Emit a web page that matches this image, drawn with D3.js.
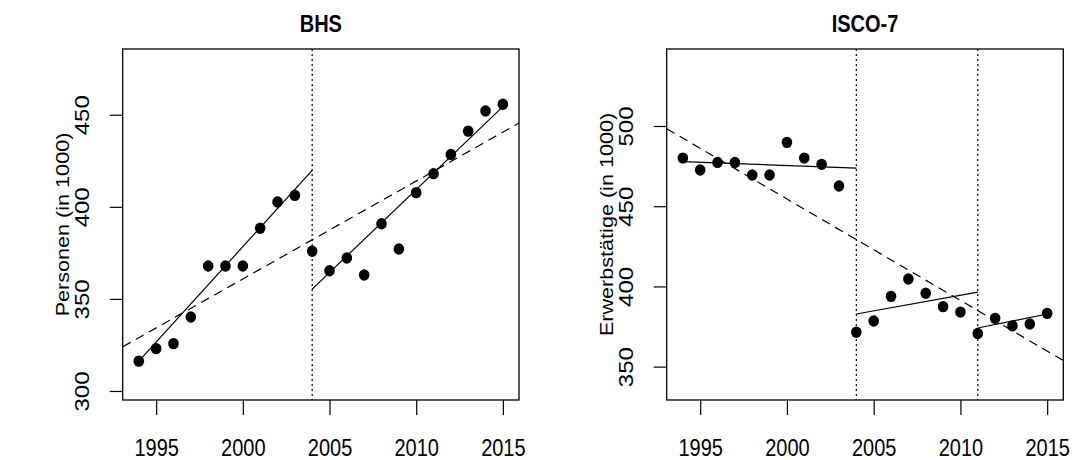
<!DOCTYPE html>
<html>
<head>
<meta charset="utf-8">
<script src="https://cdn.jsdelivr.net/npm/d3@7"></script>
<style>
  body { margin: 0; background: #fff; }
  svg { display: block; font-family: "Liberation Sans", Arial, sans-serif; }
</style>
</head>
<body>
<div id="chart"></div>
<script>
// values
const years = [1994, 1995, 1996, 1997, 1998, 1999, 2000, 2001, 2002, 2003, 2004,
               2005, 2006, 2007, 2008, 2009, 2010, 2011, 2012, 2013, 2014, 2015];

const bhsValues = [316.2, 323.0, 325.7, 340.2, 367.9, 367.9, 367.9, 388.4, 402.6, 406.2, 375.9,
                   365.3, 372.2, 363.0, 390.8, 377.1, 407.7, 418.0, 428.4, 441.1, 452.0, 455.7];
const iscoValues = [480.0, 472.6, 477.3, 477.3, 469.5, 469.5, 489.8, 480.0, 476.1, 462.6, 371.4,
                    378.4, 393.8, 404.6, 395.7, 387.4, 384.0, 370.7, 380.1, 375.5, 376.6, 383.2];

// structural breaks (dotted verticals)
const bhsBreaks = [2004];
const iscoBreaks = [2004, 2011];

// piecewise fits (solid)
const bhsSegments = [
  { x0: 1994, x1: 2004, y0: 316.2, y1: 419.8 },
  { x0: 2004, x1: 2015, y0: 355.3, y1: 454.4 }
];
const iscoSegments = [
  { x0: 1994, x1: 2004, y0: 477.8, y1: 473.8 },
  { x0: 2004, x1: 2011, y0: 382.8, y1: 396.5 },
  { x0: 2011, x1: 2015, y0: 374.1, y1: 382.8 }
];

// overall linear trend (dashed), values at the plot edges
const bhsTrend = [{ x: 1993.07, y: 324.0 }, { x: 2015.93, y: 445.5 }];
const iscoTrend = [{ x: 1993.07, y: 498.3 }, { x: 2015.93, y: 353.8 }];

const xTicks = [1995, 2000, 2005, 2010, 2015];
const bhsYTicks = [300, 350, 400, 450];
const iscoYTicks = [350, 400, 450, 500];

const width = 1082, height = 460;
const stretch = 1.2;   // the reference text is a bit taller than wide

const svg = d3.select("#chart").append("svg")
    .attr("width", width)
    .attr("height", height);

svg.append("rect").attr("width", width).attr("height", height).attr("fill", "#fff");

function drawPanel(opts) {
    const top = 49, bottom = 400;
    const x = d3.scaleLinear().domain([1993.07, 2015.93]).range([opts.left, opts.right]);
    const y = d3.scaleLinear().domain(opts.yDomain).range([bottom, top]);

    const g = svg.append("g");

    // break lines
    g.selectAll(".brk")
        .data(opts.breaks)
        .join("line")
        .attr("x1", d => x(d)).attr("x2", d => x(d))
        .attr("y1", top).attr("y2", bottom)
        .attr("stroke", "#000")
        .attr("stroke-width", 1.2)
        .attr("stroke-dasharray", "2,3");

    // overall trend
    g.append("line")
        .attr("x1", x(opts.trend[0].x)).attr("y1", y(opts.trend[0].y))
        .attr("x2", x(opts.trend[1].x)).attr("y2", y(opts.trend[1].y))
        .attr("stroke", "#000")
        .attr("stroke-width", 1.2)
        .attr("stroke-dasharray", "9,6");

    // segment fits
    g.selectAll(".seg")
        .data(opts.segments)
        .join("line")
        .attr("x1", d => x(d.x0)).attr("y1", d => y(d.y0))
        .attr("x2", d => x(d.x1)).attr("y2", d => y(d.y1))
        .attr("stroke", "#000")
        .attr("stroke-width", 1.2);

    // points
    g.selectAll("ellipse")
        .data(opts.values)
        .join("ellipse")
        .attr("cx", (d, i) => x(years[i]))
        .attr("cy", d => y(d))
        .attr("rx", 5.3)
        .attr("ry", 5.7)
        .attr("fill", "#000");

    // box
    g.append("rect")
        .attr("x", opts.left).attr("y", top)
        .attr("width", opts.right - opts.left)
        .attr("height", bottom - top)
        .attr("fill", "none")
        .attr("stroke", "#000")
        .attr("stroke-width", 1.3);

    // x axis
    const xa = svg.append("g")
        .attr("transform", `translate(0,${bottom})`)
        .call(d3.axisBottom(x).tickValues(xTicks).tickFormat(d3.format("d"))
            .tickSize(15).tickSizeOuter(0));
    xa.select(".domain").remove();
    xa.selectAll(".tick line").attr("stroke", "#000").attr("stroke-width", 1.2);
    xa.selectAll(".tick text")
        .attr("y", null).attr("dy", null)
        .attr("transform", `translate(0,55.5) scale(1,${stretch})`)
        .attr("font-size", 20)
        .attr("font-family", "Liberation Sans, Arial, sans-serif")
        .attr("fill", "#000");

    // y axis
    const ya = svg.append("g")
        .attr("transform", `translate(${opts.left},0)`)
        .call(d3.axisLeft(y).tickValues(opts.yTicks).tickSize(13).tickSizeOuter(0));
    ya.select(".domain").remove();
    ya.selectAll(".tick line").attr("stroke", "#000").attr("stroke-width", 1.2);
    ya.selectAll(".tick text")
        .attr("x", null).attr("dy", null)
        .attr("text-anchor", "middle")
        .attr("transform", `translate(-33.5,0) scale(1,${stretch}) rotate(-90)`)
        .attr("font-size", 20)
        .attr("font-family", "Liberation Sans, Arial, sans-serif")
        .attr("fill", "#000");

    // title
    svg.append("text")
        .attr("transform", `translate(${(opts.left + opts.right) / 2},31.5) scale(1,${stretch})`)
        .attr("text-anchor", "middle")
        .attr("font-size", 20)
        .attr("font-weight", "bold")
        .text(opts.title);

    // y label
    svg.append("text")
        .attr("transform", `translate(${opts.left - 54},${(top + bottom) / 2}) scale(1,${stretch}) rotate(-90)`)
        .attr("text-anchor", "middle")
        .attr("font-size", 18)
        .text(opts.ylab);
}

drawPanel({
    left: 122.7, right: 519,
    yDomain: [295.1, 485.7],
    values: bhsValues, breaks: bhsBreaks, segments: bhsSegments, trend: bhsTrend,
    yTicks: bhsYTicks, title: "BHS", ylab: "Personen (in 1000)"
});

drawPanel({
    left: 666.7, right: 1063.3,
    yDomain: [329.2, 548],
    values: iscoValues, breaks: iscoBreaks, segments: iscoSegments, trend: iscoTrend,
    yTicks: iscoYTicks, title: "ISCO-7", ylab: "Erwerbstätige (in 1000)"
});
</script>
</body>
</html>
